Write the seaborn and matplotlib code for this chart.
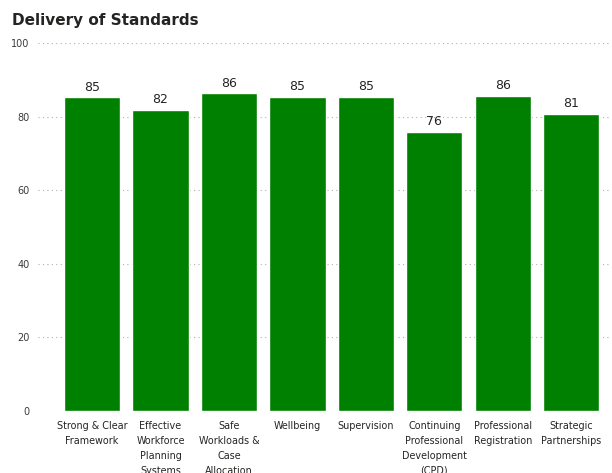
import matplotlib
matplotlib.use("Agg")
import matplotlib.pyplot as plt
import seaborn as sns
import pandas as pd

categories = ["Strong & Clear\nFramework", "Effective\nWorkforce\nPlanning\nSystems",
              "Safe\nWorkloads &\nCase\nAllocation", "Wellbeing", "Supervision",
              "Continuing\nProfessional\nDevelopment\n(CPD)", "Professional\nRegistration",
              "Strategic\nPartnerships"]
values = [85.2, 81.9, 86.3, 85.4, 85.4, 75.8, 85.7, 80.8]
labels = ["85", "82", "86", "85", "85", "76", "86", "81"]
yticks = [0, 20, 40, 60, 80, 100]

sns.set_style("white")
plt.rcParams['font.family'] = ['DejaVu Sans']

df = pd.DataFrame({"cat": categories, "val": values})

fig = plt.figure(figsize=(6.12, 4.73), dpi=100)
ax = fig.add_axes([38/612, 1-411/473, (611-38)/612, (411-43)/473])

sns.barplot(data=df, x="cat", y="val", color="#008000", saturation=1, width=0.82, ax=ax)

ax.set_ylim(0, 100)
ax.set_xlim(-0.79, 7.58)
ax.set_yticks(yticks)
ax.grid(axis="y", linestyle=(0, (1, 3)), color="#b0b0b0", linewidth=0.8)
ax.set_axisbelow(True)
for s in ax.spines.values():
    s.set_visible(False)
ax.set_xlabel("")
ax.set_ylabel("")
ax.tick_params(axis="y", length=0, pad=6, labelsize=7, labelcolor="#3b3a39")
ax.tick_params(axis="x", length=0, pad=7, labelsize=6.9, labelcolor="#252423")
for t in ax.get_xticklabels():
    t.set_linespacing(1.62)

for i, (v, lab) in enumerate(zip(values, labels)):
    ax.text(i, v + 1.0, lab, ha="center", va="bottom", fontsize=9, color="#252423")

fig.text(12/612, 1-20/473, "Delivery of Standards", fontsize=11, fontweight="semibold",
         color="#252423", va="center", ha="left")

fig.savefig("out.png", dpi=100)
